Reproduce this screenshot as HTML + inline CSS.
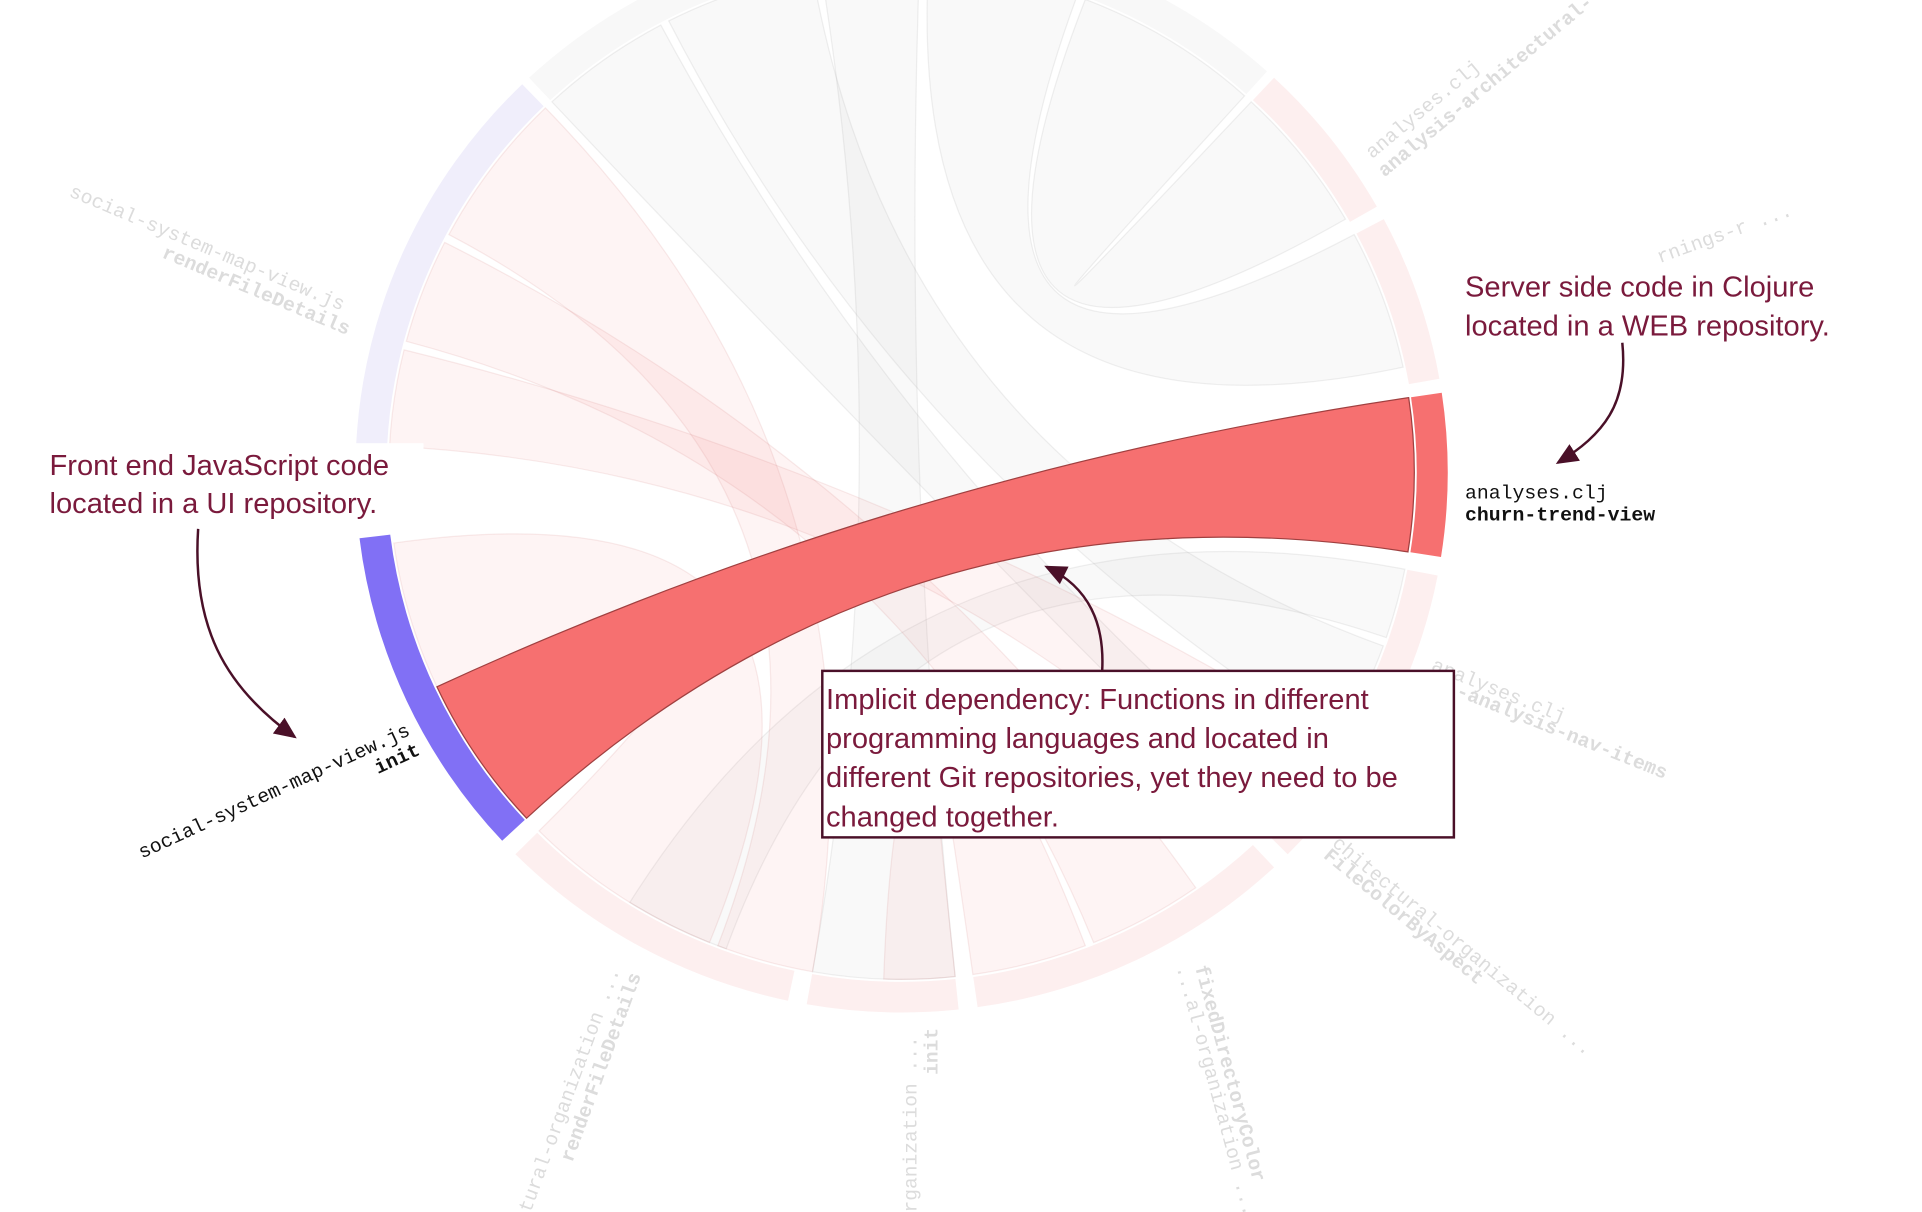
<!DOCTYPE html>
<html><head><meta charset="utf-8"><style>
html,body{margin:0;padding:0;background:#fff;}
svg{display:block;}
.ann{font-family:"Liberation Sans",sans-serif;font-size:23.5px;fill:#7a1a3c;}
.mono{font-family:"Liberation Mono",monospace;font-size:16px;}
.g{fill:#dcdcdc;}
</style></head><body>
<svg id="s" width="1922" height="1212" viewBox="0 0 1552 990" preserveAspectRatio="none" xmlns="http://www.w3.org/2000/svg">
<defs><marker id="ah" markerWidth="10" markerHeight="10" refX="8" refY="5" orient="auto"><path d="M0,1 L9,5 L0,9 z" fill="#4a1028"/></marker></defs>
<g id="ring"></g>
<g id="chords"></g>
<g id="labels">
<text class="mono g" transform="translate(55,160) rotate(23)">social-system-map-view.js</text>
<text class="mono g" font-weight="bold" transform="translate(130,210) rotate(23)">renderFileDetails</text>
<text class="mono g" transform="translate(1108,130) rotate(-40)">analyses.clj</text>
<text class="mono g" font-weight="bold" transform="translate(1118,145) rotate(-40)">analysis-architectural-</text>
<text class="mono g" transform="translate(1340,215) rotate(-20)">rnings-r ...</text>
<text class="mono g" transform="translate(1155,547) rotate(22)">analyses.clj</text>
<text class="mono g" font-weight="bold" transform="translate(1175,568) rotate(22)">-analysis-nav-items</text>
<text class="mono g" transform="translate(1075,690) rotate(40)">chitectural-organization ...</text>
<text class="mono g" font-weight="bold" transform="translate(1068,700) rotate(40)">FileColorByAspect</text>
<text class="mono g" transform="translate(950,790) rotate(75)">...al-organization ...</text>
<text class="mono g" font-weight="bold" transform="translate(965,790) rotate(75)">fixedDirectoryColor</text>
<text class="mono g" transform="translate(740,1000) rotate(-90)">organization ...</text>
<text class="mono g" font-weight="bold" transform="translate(757,878) rotate(-90)">init</text>
<text class="mono g" transform="translate(425,1000) rotate(-70)">ctural-organization ...</text>
<text class="mono g" font-weight="bold" transform="translate(462,950) rotate(-70)">renderFileDetails</text>
<text class="mono" x="1183" y="407" fill="#111">analyses.clj</text>
<text class="mono" x="1183" y="425" fill="#111" font-weight="bold">churn-trend-view</text>
<text class="mono" fill="#111" text-anchor="end" transform="translate(332,600) rotate(-25)">social-system-map-view.js</text>
<text class="mono" fill="#111" font-weight="bold" text-anchor="end" transform="translate(340,616) rotate(-25)">init</text>
</g>
<rect x="30" y="362" width="312" height="66" fill="#fff"/>
<text class="ann" x="40" y="388">Front end JavaScript code</text>
<text class="ann" x="40" y="419">located in a UI repository.</text>
<text class="ann" x="1183" y="242">Server side code in Clojure</text>
<text class="ann" x="1183" y="274">located in a WEB repository.</text>
<rect x="664" y="548" width="510" height="136" fill="#fff" stroke="#4a1028" stroke-width="2"/>
<text class="ann" x="667" y="579">Implicit dependency: Functions in different</text>
<text class="ann" x="667" y="611">programming languages and located in</text>
<text class="ann" x="667" y="643">different Git repositories, yet they need to be</text>
<text class="ann" x="667" y="675">changed together.</text>
<path d="M160,432 C155,510 180,560 238,602" fill="none" stroke="#4a1028" stroke-width="2" marker-end="url(#ah)"/>
<path d="M1310,280 C1315,330 1295,355 1258,378" fill="none" stroke="#4a1028" stroke-width="2" marker-end="url(#ah)"/>
<path d="M890,548 C892,510 880,480 845,463" fill="none" stroke="#4a1028" stroke-width="2" marker-end="url(#ah)"/>
</svg>
<script>
var cx=728,cy=386,R1=416,R2=441,r=414;
function P(a,rr){a=a*Math.PI/180;return (cx+rr*Math.cos(a)).toFixed(1)+","+(cy+rr*Math.sin(a)).toFixed(1);}
function arcSeg(a0,a1,fill){var big=Math.abs(a1-a0)>180?1:0;
return '<path d="M'+P(a0,R2)+' A'+R2+','+R2+' 0 '+big+' 1 '+P(a1,R2)+' L'+P(a1,R1)+' A'+R1+','+R1+' 0 '+big+' 0 '+P(a0,R1)+' Z" fill="'+fill+'"/>';}
var segs=[[183,226,"#f0eefb"],[137,173,"#8170f5"],[102,135,"#fdefef"],[84,100,"#fdefef"],[47,82,"#fdefef"],[11,45,"#fdefef"],[-8.5,9,"#f67070"],[-28,-10,"#fdefef"],[-47,-29.5,"#fdefef"],[-133,-48,"#f8f8f8"]];
var h="";segs.forEach(function(s){h+=arcSeg(s[0],s[1],s[2]);});
document.getElementById("ring").innerHTML=h;
function chord(a0,a1,b0,b1,fill,stroke){
return '<path d="M'+P(a0,r)+' A'+r+','+r+' 0 0 1 '+P(a1,r)+' Q'+cx+','+cy+' '+P(b0,r)+' A'+r+','+r+' 0 0 1 '+P(b1,r)+' Q'+cx+','+cy+' '+P(a0,r)+' Z" fill="'+fill+'" stroke="'+stroke+'" stroke-width="1"/>';}
var pk="rgba(246,112,112,0.08)",pks="rgba(200,100,100,0.12)",gy="rgba(190,190,190,0.09)",gys="rgba(150,150,150,0.14)";
var c="";
c+=chord(-133,-118,40,45,gy,gys);
c+=chord(-117,-100,20,32,gy,gys);
c+=chord(-99,-88,84,100,gy,gys);
c+=chord(-87,-70,-28,-12,gy,gys);
c+=chord(-69,-48,-47,-30,gy,gys);
c+=chord(11,19,110,122,gy,gys);
c+=chord(208,226,100,111,pk,pks);
c+=chord(195,207,55,68,pk,pks);
c+=chord(183,194,32,46,pk,pks);
c+=chord(155,172,112,135,pk,pks);
c+=chord(69,82,84,92,pk,pks);
c+=chord(137,155,-8.5,9,"#f67070","#a04040");
document.getElementById("chords").innerHTML=c;
</script>
</body></html>
